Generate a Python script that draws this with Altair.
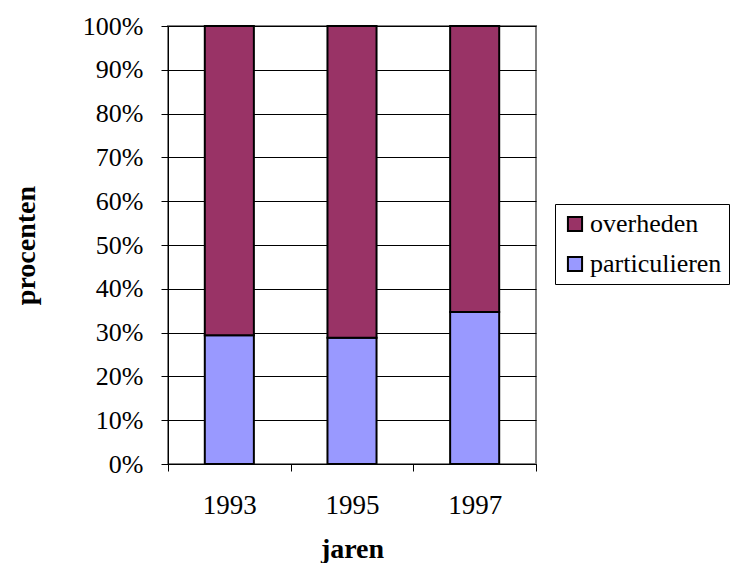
import altair as alt
import pandas as pd

years = ["1993", "1995", "1997"]
particulieren = [0.294, 0.288, 0.347]
overheden = [1 - v for v in particulieren]
series = ["overheden", "particulieren"]
colors = ["#993366", "#9999FF"]

rows = []
for i, y in enumerate(years):
    rows.append({"jaar": y, "groep": "particulieren", "waarde": particulieren[i], "ord": 0})
    rows.append({"jaar": y, "groep": "overheden", "waarde": overheden[i], "ord": 1})
df = pd.DataFrame(rows)

FONT = "Liberation Serif"

chart = alt.Chart(df).mark_bar(stroke="black", strokeWidth=2, width={"band": 0.4}).encode(
    x=alt.X("jaar:N", sort=years,
            scale=alt.Scale(paddingInner=0, paddingOuter=0),
            axis=alt.Axis(title="jaren", labelAngle=0, tickBand="extent",
                          tickSize=7, tickColor="black", domainColor="black",
                          labelFontSize=27, labelFont=FONT, labelColor="black",
                          labelPadding=21, titleFont=FONT, titleFontSize=28,
                          titleFontWeight="bold", titleColor="black",
                          titleX=184, titleY=93, titleBaseline="alphabetic", grid=False)),
    y=alt.Y("waarde:Q", stack="zero",
            scale=alt.Scale(domain=[0, 1], nice=False),
            axis=alt.Axis(title="procenten", format=".0%",
                          values=[i / 10 for i in range(11)],
                          tickSize=7, tickColor="black", domainColor="black",
                          labelFontSize=26, labelFont=FONT, labelColor="black",
                          labelPadding=18, gridColor="black", gridOpacity=1,
                          titleFont=FONT, titleFontSize=28, titleFontWeight="bold",
                          titleColor="black", titleX=-142, titleY=219,
                          titleBaseline="middle", titleAlign="center")),
    color=alt.Color("groep:N", sort=series,
                    scale=alt.Scale(domain=series, range=colors),
                    legend=alt.Legend(title=None, orient="none", legendX=387, legendY=178,
                                      labelFont=FONT, labelFontSize=26, labelColor="black",
                                      symbolType="square", symbolSize=200,
                                      symbolStrokeColor="black", symbolStrokeWidth=2,
                                      strokeColor="black", padding=7, rowPadding=14,
                                      labelOffset=2, fillColor="white")),
    order=alt.Order("ord:Q"),
).properties(
    width=368, height=438,
    autosize=alt.AutoSizeParams(type="none"),
    padding={"left": 160, "top": 18, "right": 195, "bottom": 99},
).configure_view(
    stroke="#808080", strokeWidth=2
).configure_axis(
    gridWidth=1
)

chart.save("out.html", embed_options={"renderer": "svg", "actions": False})
